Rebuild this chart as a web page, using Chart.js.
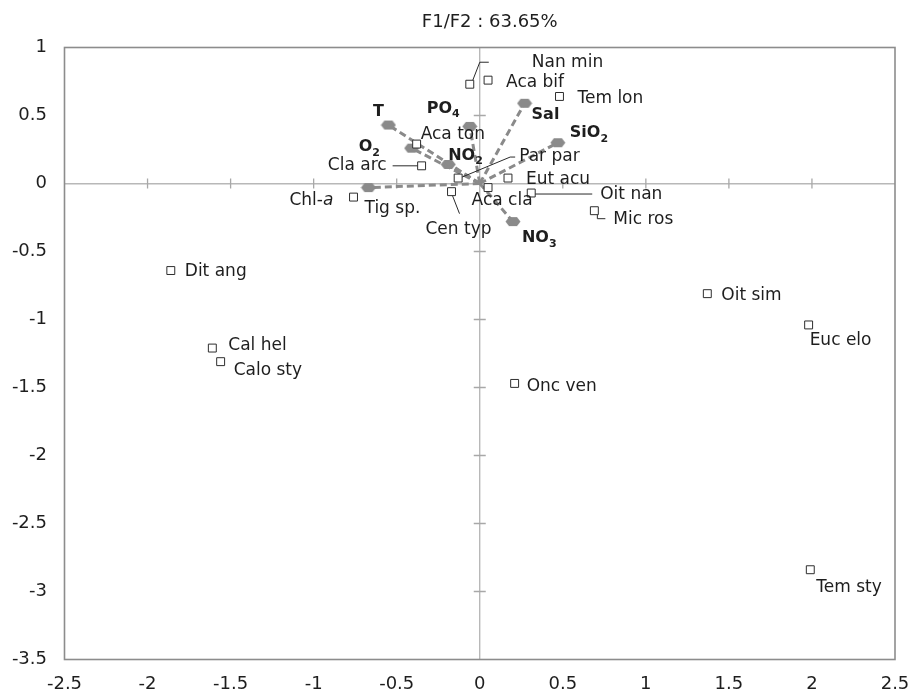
<!DOCTYPE html>
<html><head><meta charset="utf-8">
<script src="https://cdn.jsdelivr.net/npm/chart.js@4"></script>
<style>html,body{margin:0;padding:0;background:#fff}</style>
</head><body>
<canvas id="c" width="910" height="695"></canvas>
<script>
// ---- data ----
const chartTitle = 'F1/F2 : 63.65%';
const xTicks = [-2.5, -2, -1.5, -1, -0.5, 0, 0.5, 1, 1.5, 2, 2.5];
const yTicks = [-3.5, -3, -2.5, -2, -1.5, -1, -0.5, 0, 0.5, 1];

const speciesNames = ['Dit ang', 'Cal hel', 'Calo sty', 'Oit sim', 'Euc elo', 'Tem sty', 'Onc ven', 'Mic ros', 'Oit nan', 'Eut acu', 'Aca cla', 'Par par', 'Cen typ', 'Tig sp.', 'Cla arc', 'Aca ton', 'Nan min', 'Aca bif', 'Tem lon'];
const speciesF1 = [-1.86, -1.61, -1.56, 1.37, 1.98, 1.99, 0.21, 0.69, 0.31, 0.17, 0.05, -0.13, -0.17, -0.76, -0.35, -0.38, -0.06, 0.05, 0.48];
const speciesF2 = [-0.64, -1.21, -1.31, -0.81, -1.04, -2.84, -1.47, -0.20, -0.07, 0.04, -0.03, 0.04, -0.06, -0.10, 0.13, 0.29, 0.73, 0.76, 0.64];

const variableNames = ['T', 'O2', 'PO4', 'NO2', 'Sal', 'SiO2', 'Chl-a', 'NO3'];
const variableF1 = [-0.55, -0.41, -0.06, -0.19, 0.27, 0.47, -0.67, 0.20];
const variableF2 = [0.43, 0.26, 0.42, 0.14, 0.59, 0.30, -0.03, -0.28];

// ---- label placement (style only, pixel offsets from the mark) ----
const speciesLabelPlace = {
  'Dit ang': {dx: 14, dy: 1},
  'Cal hel': {dx: 16, dy: -2},
  'Calo sty': {dx: 13, dy: 9},
  'Oit sim': {dx: 14, dy: 2},
  'Euc elo': {dx: 1, dy: 16},
  'Tem sty': {dx: 6, dy: 18},
  'Onc ven': {dx: 12, dy: 3},
  'Mic ros': {dx: 19, dy: 9, leader: [[3, 4], [3, 8], [11, 8]]},
  'Oit nan': {dx: 69, dy: 2, leader: [[4, 1], [61, 1]]},
  'Eut acu': {dx: 18, dy: 2},
  'Aca cla': {dx: 14, dy: 13, align: 'center'},
  'Par par': {dx: 61, dy: -21, leader: [[4, -1], [52, -21], [57, -21]]},
  'Cen typ': {dx: 7, dy: 38, align: 'center', leader: [[1, 4], [8, 22]]},
  'Tig sp.': {dx: 11, dy: 11},
  'Cla arc': {dx: -35, dy: 0, align: 'right', leader: [[-29, 0], [-4, 0]]},
  'Aca ton': {dx: 4, dy: -9},
  'Nan min': {dx: 62, dy: -22, leader: [[3, -4], [10, -22], [19, -22]]},
  'Aca bif': {dx: 18, dy: 2},
  'Tem lon': {dx: 18, dy: 2}
};
const variableLabelPlace = {
  'T': {dx: -10, dy: -13, align: 'center', bold: true},
  'O2': {dx: -53, dy: -1, bold: true},
  'PO4': {dx: -43, dy: -18, bold: true},
  'NO2': {dx: 0, dy: -9, bold: true},
  'Sal': {dx: 7, dy: 12, bold: true},
  'SiO2': {dx: 12, dy: -10, bold: true},
  'Chl-a': {dx: -79, dy: 13, bold: false},
  'NO3': {dx: 9, dy: 16, bold: true}
};

const LABEL_FAMILY = "'DejaVu Sans', 'Open Sans', sans-serif";
const AXIS_FAMILY = "'DejaVu Sans', 'Open Sans', sans-serif";
const TEXT_COLOR = '#1e1e1e';
const VAR_COLOR = '#8a8a8a';

// blob-shaped marker for the variables
const varMarker = (() => {
  const c = document.createElement('canvas');
  c.width = 16; c.height = 11;
  const g = c.getContext('2d');
  g.fillStyle = VAR_COLOR;
  g.beginPath();
  g.moveTo(0.5, 5.5); g.lineTo(4, 1); g.lineTo(12, 1); g.lineTo(15.5, 5.5); g.lineTo(12, 10); g.lineTo(4, 10);
  g.closePath();
  g.fill();
  return c;
})();

function richParts(name) {
  const out = [];
  if (/-a$/.test(name)) {
    out.push({t: name.slice(0, -1), s: 0});
    out.push({t: 'a', s: 0, it: 1});
    return out;
  }
  name.replace(/(\D+|\d+)/g, m => { out.push({t: m, s: /\d/.test(m) ? 1 : 0}); return m; });
  return out;
}
function drawRich(ctx, x, y, name, align, bold, size) {
  const ps = richParts(name);
  const fontFor = p => `${p.it ? 'italic ' : ''}${bold ? 'bold ' : ''}${p.s ? Math.round(size * 0.7) : size}px ${LABEL_FAMILY}`;
  let w = 0;
  ps.forEach(p => { ctx.font = fontFor(p); p.w = ctx.measureText(p.t).width; w += p.w; });
  let cx = align === 'center' ? x - w / 2 : align === 'right' ? x - w : x;
  ctx.textAlign = 'left';
  ctx.textBaseline = 'middle';
  ps.forEach(p => { ctx.font = fontFor(p); ctx.fillText(p.t, cx, y + (p.s ? size * 0.38 : 0)); cx += p.w; });
}

const framePlugin = {
  id: 'frame',
  beforeDatasetsDraw(chart) {
    const {ctx, chartArea: a, scales: {x, y}} = chart;
    ctx.save();
    ctx.strokeStyle = '#a8a8a8';
    ctx.lineWidth = 1.3;
    const x0 = x.getPixelForValue(0), y0 = y.getPixelForValue(0);
    ctx.beginPath();
    xTicks.forEach(v => { if (v === 0 || v === xTicks[0] || v === xTicks[xTicks.length - 1]) return; const px = x.getPixelForValue(v); ctx.moveTo(px, y0 - 5); ctx.lineTo(px, y0 + 5); });
    yTicks.forEach(v => { if (v === 0 || v === yTicks[0] || v === yTicks[yTicks.length - 1]) return; const py = y.getPixelForValue(v); ctx.moveTo(x0 - 6, py); ctx.lineTo(x0 + 6, py); });
    ctx.stroke();
    ctx.strokeStyle = '#8c8c8c';
    ctx.lineWidth = 1.6;
    ctx.strokeRect(a.left, a.top, a.right - a.left, a.bottom - a.top);
    ctx.restore();
  },
  afterDraw(chart) {
    const {ctx, chartArea: a} = chart;
    ctx.save();
    ctx.fillStyle = TEXT_COLOR;
    ctx.font = `18px ${AXIS_FAMILY}`;
    ctx.textAlign = 'center';
    ctx.textBaseline = 'middle';
    ctx.fillText(chartTitle, (a.left + a.right) / 2 + 10, 22);
    ctx.restore();
  }
};

const labelPlugin = {
  id: 'labels',
  afterDatasetsDraw(chart) {
    const {ctx, scales: {x, y}} = chart;
    ctx.save();
    ctx.fillStyle = TEXT_COLOR;
    ctx.strokeStyle = '#2a2a2a';
    ctx.lineWidth = 1;
    speciesNames.forEach((n, i) => {
      const px = x.getPixelForValue(speciesF1[i]), py = y.getPixelForValue(speciesF2[i]);
      const pl = speciesLabelPlace[n] || {dx: 12, dy: 0};
      if (pl.leader) {
        ctx.beginPath();
        pl.leader.forEach((p, k) => { const fx = px + p[0], fy = py + p[1]; k ? ctx.lineTo(fx, fy) : ctx.moveTo(fx, fy); });
        ctx.stroke();
      }
      ctx.font = `17px ${LABEL_FAMILY}`;
      ctx.textAlign = pl.align || 'left';
      ctx.textBaseline = 'middle';
      ctx.fillText(n, px + pl.dx, py + pl.dy);
    });
    variableNames.forEach((n, i) => {
      const px = x.getPixelForValue(variableF1[i]), py = y.getPixelForValue(variableF2[i]);
      const pl = variableLabelPlace[n] || {dx: 10, dy: -10, bold: true};
      drawRich(ctx, px + pl.dx, py + pl.dy, n, pl.align || 'left', pl.bold, pl.bold ? 16 : 17);
    });
    ctx.restore();
  }
};

const datasets = [{
  label: 'Species',
  data: speciesNames.map((n, i) => ({x: speciesF1[i], y: speciesF2[i]})),
  pointStyle: 'rect',
  pointRadius: 5.6,
  pointBackgroundColor: '#ffffff',
  pointBorderColor: '#2e2e2e',
  pointBorderWidth: 1,
  showLine: false
}];
variableNames.forEach((n, i) => {
  datasets.push({
    label: n,
    data: [{x: 0, y: 0}, {x: variableF1[i], y: variableF2[i]}],
    showLine: true,
    borderColor: VAR_COLOR,
    borderWidth: 3,
    borderDash: [7, 4],
    pointStyle: [false, varMarker],
    pointRadius: [0, 7]
  });
});

new Chart(document.getElementById('c'), {
  type: 'scatter',
  data: {datasets},
  options: {
    responsive: false,
    animation: false,
    events: [],
    layout: {padding: {top: 47.5, right: 15, left: 0, bottom: 0}},
    plugins: {legend: {display: false}, tooltip: {enabled: false}, title: {display: false}},
    scales: {
      x: {
        type: 'linear', min: -2.5, max: 2.5,
        afterBuildTicks: s => { s.ticks = xTicks.map(v => ({value: v})); },
        afterFit: s => { s.height = 35.5; s.paddingLeft = 0; s.paddingRight = 0; },
        border: {display: false},
        grid: {drawTicks: false, lineWidth: 1.4, color: c => (c.tick && c.tick.value === 0) ? '#b8b8b8' : 'rgba(0,0,0,0)'},
        ticks: {padding: 14.5, color: TEXT_COLOR, font: {family: AXIS_FAMILY, size: 18}, maxRotation: 0, autoSkip: false, callback: v => String(v)}
      },
      y: {
        type: 'linear', min: -3.5, max: 1,
        afterBuildTicks: s => { s.ticks = yTicks.map(v => ({value: v})); },
        afterFit: s => { s.width = 64.5; s.paddingTop = 0; s.paddingBottom = 0; },
        border: {display: false},
        grid: {drawTicks: false, lineWidth: 1.4, color: c => (c.tick && c.tick.value === 0) ? '#b8b8b8' : 'rgba(0,0,0,0)'},
        ticks: {padding: 17.5, color: TEXT_COLOR, font: {family: AXIS_FAMILY, size: 18}, autoSkip: false, callback: v => String(v)}
      }
    }
  },
  plugins: [framePlugin, labelPlugin]
});
</script>
</body></html>
